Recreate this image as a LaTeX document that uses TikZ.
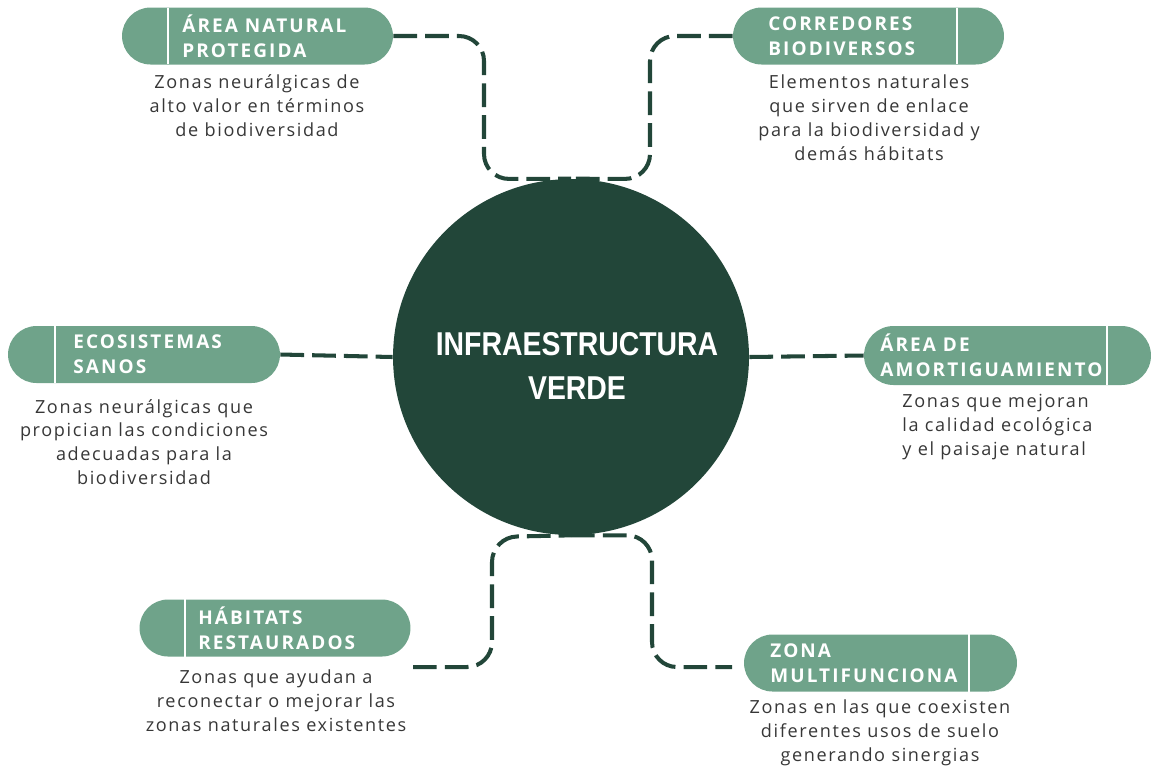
\documentclass[tikz,border=0pt]{standalone}
\usepackage{fontspec}
\usepackage{tikz}
\usetikzlibrary{positioning,calc,shapes.misc}
\setmainfont{Open Sans}
\newfontfamily\ttlfont[LetterSpace=11]{Open Sans}
\newfontfamily\txtfont[LetterSpace=9]{Open Sans}
\newfontfamily\hubfont[FakeStretch=0.86]{Liberation Sans}
\definecolor{ivdark}{RGB}{34,70,57}
\definecolor{ivsage}{RGB}{111,163,138}
\definecolor{ivtext}{RGB}{55,55,55}
\tikzset{
  hub/.style={circle, fill=ivdark, minimum size=7.12cm, inner sep=0pt},
  hublbl/.style={text=white, align=center, inner sep=0pt,
      font=\hubfont\bfseries\fontsize{18.8}{25.5}\selectfont},
  pill/.style={rounded rectangle, fill=ivsage, minimum width=5.42cm, minimum height=1.14cm, inner sep=0pt},
  divl/.style={white, line width=1.2pt},
  ttl/.style={anchor=west, text=white, align=left, inner sep=0pt,
      font=\ttlfont\bfseries\fontsize{10.8}{14.2}\selectfont},
  desc/.style={text=ivtext, align=center, inner sep=0pt,
      font=\txtfont\fontsize{10.3}{13.6}\selectfont},
  link/.style={ivdark, line width=2.3pt, dash pattern=on 13.5pt off 4.6pt, rounded corners=0.5cm},
}
\begin{document}
\begin{tikzpicture}[x=0.02cm, y=-0.02cm]
\useasboundingbox (0,0) rectangle (1151,769);
\node[hub] (iv) at (571,357) {};
\node[hublbl] (ivlbl) at (577,366) {INFRAESTRUCTURA\\VERDE};
% topic pills
\node[pill] (anp) at (257.5,36) {};
\draw[divl] (168,8) -- (168,64);
\node[ttl] at (182,36) {ÁREA NATURAL\\PROTEGIDA};
\node[pill] (cbd) at (868.5,36) {};
\draw[divl] (957,8) -- (957,64);
\node[ttl] at (768,36) {CORREDORES\\BIODIVERSOS};
\node[pill, minimum width=5.44cm] (eco) at (144,354.5) {};
\draw[divl] (55,326) -- (55,383);
\node[ttl] at (73,354.5) {ECOSISTEMAS\\SANOS};
\node[pill, minimum width=5.74cm, minimum height=1.18cm] (ada) at (1007.5,355.5) {};
\draw[divl] (1107,326) -- (1107,385);
\node[ttl] at (880,355.5) {ÁREA DE\\AMORTIGUAMIENTO};
\node[pill] (hab) at (275,628) {};
\draw[divl] (185,599) -- (185,657);
\node[ttl] at (198,628) {HÁBITATS\\RESTAURADOS};
\node[pill, minimum width=5.46cm] (zmf) at (880.5,663) {};
\draw[divl] (969,634) -- (969,692);
\node[ttl] at (770,663) {ZONA\\MULTIFUNCIONA};
% descriptions
\node[desc] (anptxt) at (257,106) {Zonas neurálgicas de\\alto valor en términos\\de biodiversidad};
\node[desc] (cbdtxt) at (869,118) {Elementos naturales\\que sirven de enlace\\para la biodiversidad y\\demás hábitats};
\node[desc] (ecotxt) at (144,442) {Zonas neurálgicas que\\propician las condiciones\\adecuadas para la\\biodiversidad};
\node[desc, align=left, anchor=west] (adatxt) at (902,427) {Zonas que mejoran\\la calidad ecológica\\y el paisaje natural};
\node[desc] (habtxt) at (276,701) {Zonas que ayudan a\\reconectar o mejorar las\\zonas naturales existentes};
\node[desc] (zmftxt) at (880,733) {Zonas en las que coexisten\\diferentes usos de suelo\\generando sinergias};
% dashed links
\coordinate (habend) at (413,667);
\coordinate (zmfend) at (732,667);
\draw[link] (anp.east) -| (484,179) -- (iv.north);
\draw[link] (cbd.west) -| (650,179) -- (iv.north);
\draw[link] (eco.east) -- (iv.west);
\draw[link] (iv.east) -- (ada.west);
\draw[link] (habend) -| (492,537) -- (iv.south);
\draw[link] (iv.south) -| (652,667) -- (zmfend);
\end{tikzpicture}
\end{document}
